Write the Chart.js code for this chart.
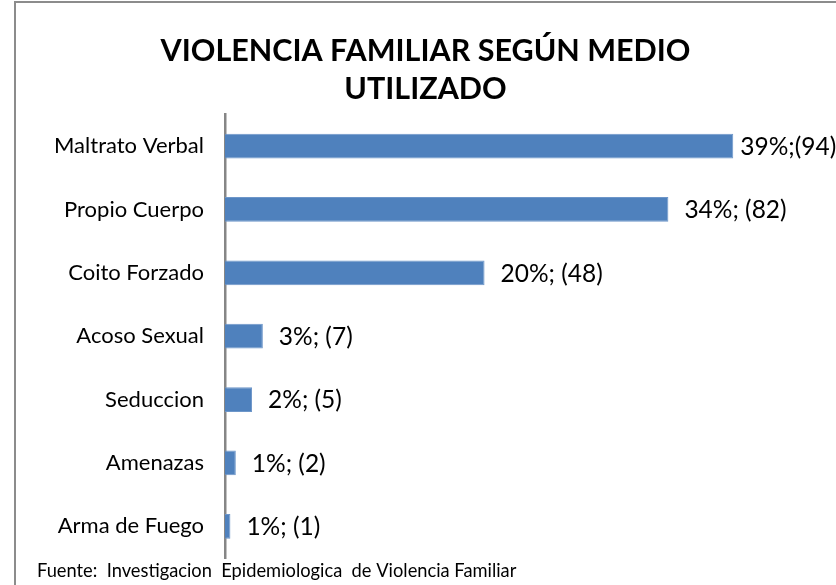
<!DOCTYPE html>
<html>
<head>
<meta charset="utf-8">
<script src="https://cdn.jsdelivr.net/npm/chart.js@4.4.1/dist/chart.umd.min.js"></script>
<style>
  html, body { margin: 0; padding: 0; background: #fff; overflow: hidden; }
  #frame { position: absolute; left: 14px; top: 1px; width: 900px; height: 700px; border: 2px solid #8c8c8c; box-sizing: border-box; }
  #wrap { position: absolute; left: 0; top: 0; width: 836px; height: 585px; }
</style>
</head>
<body>
<div id="frame"></div>
<div id="wrap"><canvas id="chart"></canvas></div>
<script>
// datos del grafico
const categorias = ['Maltrato Verbal', 'Propio Cuerpo', 'Coito Forzado', 'Acoso Sexual', 'Seduccion', 'Amenazas', 'Arma de Fuego'];
const casos = [94, 82, 48, 7, 5, 2, 1];
const etiquetas = ['39%;(94)', '34%; (82)', '20%; (48)', '3%; (7)', '2%; (5)', '1%; (2)', '1%; (1)'];
const tituloLineas = ['VIOLENCIA FAMILIAR SEGÚN MEDIO', 'UTILIZADO'];
const fuente = 'Fuente:  Investigacion  Epidemiologica  de Violencia Familiar';

const FONT = 'Lato, "Open Sans", sans-serif';

// etiquetas de valor a la derecha de cada barra
const valueLabels = {
    id: 'valueLabels',
    afterDatasetsDraw(chart) {
        const ctx = chart.ctx;
        const meta = chart.getDatasetMeta(0);
        ctx.save();
        ctx.font = '24.5px ' + FONT;
        ctx.fillStyle = '#000';
        ctx.textBaseline = 'middle';
        ctx.textAlign = 'left';
        meta.data.forEach((bar, i) => {
            const gap = i === 0 ? 7 : 16;
            ctx.fillText(etiquetas[i], bar.x + gap, bar.y + 1);
        });
        ctx.restore();
    }
};

// nota de fuente abajo
const footNote = {
    id: 'footNote',
    afterDraw(chart) {
        const ctx = chart.ctx;
        ctx.save();
        ctx.font = '18.3px ' + FONT;
        ctx.fillStyle = '#000';
        ctx.textBaseline = 'middle';
        ctx.fillText(fuente, 37, 571);
        ctx.restore();
    }
};

new Chart(document.getElementById('chart'), {
    type: 'bar',
    data: {
        labels: categorias,
        datasets: [{
            data: casos,
            backgroundColor: '#4F81BD',
            borderColor: '#6d96c9',
            borderWidth: 1,
            categoryPercentage: 1,
            barPercentage: 0.39
        }]
    },
    options: {
        indexAxis: 'y',
        responsive: true,
        maintainAspectRatio: false,
        animation: false,
        layout: { padding: { left: 15, right: 0, top: 0, bottom: 27 } },
        plugins: {
            legend: { display: false },
            tooltip: { enabled: false },
            title: {
                display: true,
                text: tituloLineas,
                color: '#000',
                font: { family: FONT, size: 30.5, weight: 'bold', lineHeight: 1.22 },
                padding: { top: 33, bottom: 7 }
            }
        },
        scales: {
            x: { display: false, min: 0, max: 113 },
            y: {
                grid: { display: false, drawTicks: false },
                border: { display: true, color: '#868686', width: 2.5 },
                ticks: { color: '#000', padding: 21, font: { family: FONT, size: 22 } },
                afterFit: (s) => {
                    s.width = 210;
                    s.paddingTop = 0;
                    s.paddingBottom = 0;
                }
            }
        }
    },
    plugins: [valueLabels, footNote]
});
</script>
</body>
</html>
